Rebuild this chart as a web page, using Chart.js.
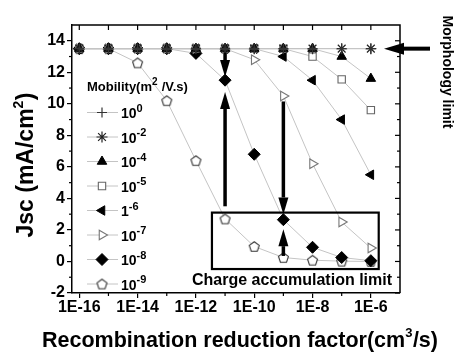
<!DOCTYPE html>
<html><head><meta charset="utf-8">
<script src="https://cdn.jsdelivr.net/npm/chart.js@4/dist/chart.umd.min.js"></script>
<style>html,body{margin:0;padding:0;background:#fff;}#wrap{width:455px;height:357px;position:relative;}</style>
</head><body><div id="wrap"><canvas id="c" width="455" height="357"></canvas></div>
<script>
// ---------- data ----------
const recombination = [1e-16,1e-15,1e-14,1e-13,1e-12,1e-11,1e-10,1e-9,1e-8,1e-7,1e-6];
const xTickValues = [1e-16,1e-14,1e-12,1e-10,1e-8,1e-6];
const xTickLabels = ['1E-16','1E-14','1E-12','1E-10','1E-8','1E-6'];
const yTickValues = [-2,0,2,4,6,8,10,12,14];
const mobilityBase = ['10','10','10','10','1','10','10','10'];
const mobilityExp  = ['0','-2','-4','-5','-6','-7','-8','-9'];
const jsc_m0 = [13.5,13.5,13.5,13.5,13.5,13.5,13.5,13.5,13.5,13.5,13.5];
const jsc_m2 = [13.5,13.5,13.5,13.5,13.5,13.5,13.5,13.5,13.5,13.5,13.5];
const jsc_m4 = [13.5,13.5,13.5,13.5,13.5,13.5,13.5,13.5,13.5,13.0,11.6];
const jsc_m5 = [13.5,13.5,13.5,13.5,13.5,13.5,13.5,13.5,13.0,11.55,9.6];
const jsc_m6 = [13.5,13.5,13.5,13.5,13.5,13.5,13.5,13.0,11.5,9.0,5.5];
const jsc_m7 = [13.5,13.5,13.5,13.5,13.5,13.5,12.8,10.5,6.2,2.5,0.85];
const jsc_m8 = [13.5,13.5,13.5,13.5,13.2,11.5,6.8,2.65,0.9,0.25,0.05];
const jsc_m9 = [13.5,13.5,12.6,10.2,6.4,2.7,0.95,0.25,0.08,0.02,0.0];
const seriesValues = [jsc_m0,jsc_m2,jsc_m4,jsc_m5,jsc_m6,jsc_m7,jsc_m8,jsc_m9];

// ---------- annotation positions (data coords) ----------
const arrowsData = [
  {x:1e-11, from:13.25, to:11.7},
  {x:1e-11, from:3.5,  to:10.75},
  {x:1e-9,  from:10.15, to:2.98},
  {x:1e-9,  from:0.35, to:2.05}
];
const boxData = {x1: Math.pow(10,-11.45), x2: Math.pow(10,-5.73), y1: 3.1, y2: -0.48};

const FONT = "'Liberation Sans', Arial, sans-serif";

function makePentagon(r, stroke){
  const s = Math.ceil(r*2+4);
  const c = document.createElement('canvas'); c.width = s; c.height = s;
  const g = c.getContext('2d');
  g.beginPath();
  for(let i=0;i<5;i++){
    const a = -Math.PI/2 + i*2*Math.PI/5;
    const px = s/2 + r*Math.cos(a), py = s/2 + r*Math.sin(a)+0.5;
    if(i===0) g.moveTo(px,py); else g.lineTo(px,py);
  }
  g.closePath(); g.fillStyle='#fff'; g.fill(); g.lineWidth=1.1; g.strokeStyle=stroke; g.stroke();
  return c;
}
const pentagon = makePentagon(5.2, '#333');

const styles = [
  {pointStyle:'cross', radius:5, rotation:0, bg:'#333', bd:'#333', bw:1.2},
  {pointStyle:'star', radius:5.5, rotation:0, bg:'#222', bd:'#222', bw:1.2},
  {pointStyle:'triangle', radius:5.5, rotation:0, bg:'#000', bd:'#000', bw:1},
  {pointStyle:'rect', radius:5.2, rotation:0, bg:'#fff', bd:'#666', bw:1.1},
  {pointStyle:'triangle', radius:5.5, rotation:-90, bg:'#000', bd:'#000', bw:1},
  {pointStyle:'triangle', radius:5.5, rotation:90, bg:'#fff', bd:'#777', bw:1.1},
  {pointStyle:'rectRot', radius:6, rotation:0, bg:'#000', bd:'#000', bw:1},
  {pointStyle:pentagon, radius:5.2, rotation:0, bg:'#fff', bd:'#333', bw:1.1}
];

const datasets = seriesValues.map((vals,i)=>({
  label: mobilityBase[i]+'^'+mobilityExp[i],
  data: recombination.map((x,j)=>({x:x, y:vals[j]})),
  borderColor:'#c4c4c4', borderWidth:1,
  pointStyle: styles[i].pointStyle, pointRadius: styles[i].radius,
  pointRotation: styles[i].rotation,
  pointBackgroundColor: styles[i].bg, pointBorderColor: styles[i].bd,
  pointBorderWidth: styles[i].bw, showLine:true, tension:0
}));

function arrow(ctx, x1,y1,x2,y2, lw, hl, hw){
  const ang = Math.atan2(y2-y1, x2-x1);
  const bx = x2 - hl*Math.cos(ang), by = y2 - hl*Math.sin(ang);
  ctx.beginPath(); ctx.moveTo(x1,y1); ctx.lineTo(bx,by);
  ctx.lineWidth = lw; ctx.strokeStyle='#000'; ctx.lineCap='butt'; ctx.stroke();
  ctx.beginPath();
  ctx.moveTo(x2,y2);
  ctx.lineTo(bx + hw/2*Math.sin(ang), by - hw/2*Math.cos(ang));
  ctx.lineTo(bx - hw/2*Math.sin(ang), by + hw/2*Math.cos(ang));
  ctx.closePath(); ctx.fillStyle='#000'; ctx.fill();
}

function richText(ctx, x, y, parts, fb, fe, rise, measureOnly){
  let cx = x;
  parts.forEach(p=>{
    ctx.font = 'bold '+(p[1]?fe:fb)+'px '+FONT;
    if(!measureOnly) ctx.fillText(p[0], cx, p[1]? y-rise : y);
    cx += ctx.measureText(p[0]).width + (p[1]?0.5:0);
  });
  return cx - x;
}

const extras = {
  id:'extras',
  afterDatasetsDraw(chart){
    const ctx = chart.ctx, a = chart.chartArea;
    const xs = chart.scales.x, ys = chart.scales.y;
    ctx.save();
    ctx.strokeStyle='#000'; ctx.lineWidth=1.5;
    ctx.beginPath(); ctx.moveTo(a.left, a.top); ctx.lineTo(a.right, a.top); ctx.lineTo(a.right, a.bottom); ctx.stroke();
    ctx.lineWidth=1.2;
    recombination.forEach(v=>{
      const px = xs.getPixelForValue(v);
      ctx.beginPath(); ctx.moveTo(px, a.top); ctx.lineTo(px, a.top+5); ctx.stroke();
    });
    recombination.forEach(v=>{
      if (xTickValues.indexOf(v) >= 0) return;
      const px = xs.getPixelForValue(v);
      ctx.beginPath(); ctx.moveTo(px, a.bottom); ctx.lineTo(px, a.bottom+3); ctx.stroke();
    });
    for (let v=-2; v<=14; v++){
      const py = ys.getPixelForValue(v);
      const major = (v%2===0);
      if(!major){ ctx.beginPath(); ctx.moveTo(a.left, py); ctx.lineTo(a.left-3, py); ctx.stroke(); }
      ctx.beginPath(); ctx.moveTo(a.right, py); ctx.lineTo(a.right-(major?5:3), py); ctx.stroke();
    }
    arrowsData.forEach(d=>{
      const px = xs.getPixelForValue(d.x);
      arrow(ctx, px, ys.getPixelForValue(d.from), px, ys.getPixelForValue(d.to), 3.5, 17, 10);
    });
    const bx1 = xs.getPixelForValue(boxData.x1), bx2 = xs.getPixelForValue(boxData.x2);
    const by1 = ys.getPixelForValue(boxData.y1), by2 = ys.getPixelForValue(boxData.y2);
    ctx.lineWidth=2.2; ctx.strokeStyle='#000';
    ctx.strokeRect(bx1, by1, bx2-bx1, by2-by1);
    ctx.fillStyle='#000';
    ctx.font='bold 16px '+FONT; ctx.textAlign='center'; ctx.textBaseline='middle';
    ctx.fillText('Charge accumulation limit', 292, by2 + 12);
    const my = ys.getPixelForValue(13.5);
    arrow(ctx, 430, my, a.right-16, my, 4, 20, 12);
    ctx.save();
    ctx.translate(447, 72); ctx.rotate(Math.PI/2);
    ctx.font='bold 14px '+FONT; ctx.textAlign='center'; ctx.textBaseline='middle';
    ctx.fillText('Morphology limit', 0, 0);
    ctx.restore();
    ctx.textAlign='left'; ctx.textBaseline='middle'; ctx.fillStyle='#000';
    const xParts = [['Recombination reduction factor(cm',0],['3',1],['/s)',0]];
    const xw = richText(ctx,0,0,xParts,21.5,13,8,true);
    richText(ctx, 240 - xw/2, 341, xParts, 21.5, 13, 8);
    ctx.save();
    ctx.translate(27, 165); ctx.rotate(-Math.PI/2);
    const yParts = [['Jsc (mA/cm',0],['2',1],[')',0]];
    const yw = richText(ctx,0,0,yParts,23,14,8,true);
    richText(ctx, -yw/2, 0, yParts, 23, 14, 8);
    ctx.restore();
    const lx = a.left + 15;
    ctx.fillStyle='#000'; ctx.textAlign='left'; ctx.textBaseline='middle';
    richText(ctx, lx, 87, [['Mobility(m',0],['2',1],[' /V.s)',0]], 13, 10, 5);
    for(let i=0;i<8;i++){
      const y = 112.5 + 24.5*i;
      ctx.beginPath(); ctx.moveTo(lx, y); ctx.lineTo(lx+31, y);
      ctx.strokeStyle='#c4c4c4'; ctx.lineWidth=1; ctx.stroke();
      const s = styles[i];
      ctx.fillStyle = s.bg; ctx.strokeStyle = s.bd; ctx.lineWidth = s.bw;
      Chart.helpers.drawPoint(ctx, {pointStyle:s.pointStyle, radius:s.radius, rotation:s.rotation, borderWidth:s.bw}, lx+15, y);
      ctx.fillStyle='#000';
      richText(ctx, lx+34, y+2, [[mobilityBase[i],0],[mobilityExp[i],1]], 14, 11, 6);
    }
    ctx.restore();
  }
};

new Chart(document.getElementById('c'), {
  type:'line',
  data:{datasets},
  options:{
    responsive:false, animation:false, devicePixelRatio:1,
    layout:{padding:{left:0, right:55, top:25, bottom:0}},
    plugins:{legend:{display:false}, tooltip:{enabled:false}},
    scales:{
      x:{type:'logarithmic', min:Math.pow(10,-16.25), max:1e-5,
        afterFit(s){ s.height = 64; },
        afterBuildTicks(s){ s.ticks = xTickValues.map(v=>({value:v})); },
        ticks:{callback:(v)=>{ const i = xTickValues.findIndex(t=>Math.abs(Math.log10(t)-Math.log10(v))<1e-6); return i>=0?xTickLabels[i]:''; },
          font:{family:FONT, size:16, weight:'bold'}, color:'#000', padding:0, autoSkip:false, maxRotation:0},
        grid:{drawOnChartArea:false, drawTicks:true, tickLength:5, color:'#000', lineWidth:1.2},
        border:{display:true, color:'#000', width:1.5},
        title:{display:false}
      },
      y:{type:'linear', min:-2, max:15,
        afterFit(s){ s.width = 72; },
        afterBuildTicks(s){ s.ticks = yTickValues.map(v=>({value:v})); },
        ticks:{font:{family:FONT, size:16, weight:'bold'}, color:'#000', padding:2},
        grid:{drawOnChartArea:false, drawTicks:true, tickLength:5, color:'#000', lineWidth:1.2},
        border:{display:true, color:'#000', width:1.5},
        title:{display:false}
      }
    }
  },
  plugins:[extras]
});
</script></body></html>
